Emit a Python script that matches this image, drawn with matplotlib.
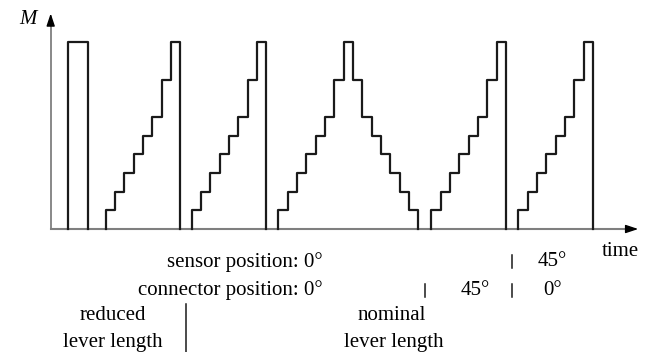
import matplotlib
matplotlib.use('Agg')
import matplotlib.pyplot as plt
import numpy as np

plt.rcParams['font.family'] = ['Liberation Serif', 'DejaVu Serif']

# pulse with reduced lever length
pulse_start, pulse_end, pulse_height = 1.9, 4.0, 10
# load steps (in step units) for each ramp
up_levels = [1, 2, 3, 4, 5, 6, 8, 10]
down_levels = [8, 6, 5, 4, 3, 2, 1]
ramp_starts = [5.9, 15.1, 24.4, 40.8, 50.1]
ramp_kind = ['up', 'up', 'updown', 'up', 'up']

# dividers between test phases
sensor_div = [49.45]
connector_div = [40.1, 49.45]
lever_div = 14.5

line_col = '#1a1a1a'
axis_col = '#7f7f7f'

fig = plt.figure(figsize=(6.51, 3.52), dpi=100)
ax = fig.add_axes([0, 0, 1, 1])
ax.set_xlim(-5.43, 64.32)
ax.set_ylim(-6.59, 12.27)
ax.axis('off')

# axes
ax.plot([0, 0], [0, 11.0], color=axis_col, lw=1.3, zorder=1)
ax.plot([0, 62.0], [0, 0], color=axis_col, lw=1.5, zorder=1)
ax.annotate('', xy=(0, 11.55), xytext=(0, 10.9),
            arrowprops=dict(arrowstyle='-|>,head_length=0.75,head_width=0.25',
                            color='black', lw=1, shrinkA=0, shrinkB=0))
ax.annotate('', xy=(62.95, 0), xytext=(61.6, 0),
            arrowprops=dict(arrowstyle='-|>,head_length=0.75,head_width=0.25',
                            color='black', lw=1, shrinkA=0, shrinkB=0))

# pulse
ax.plot([pulse_start, pulse_start, pulse_end, pulse_end],
        [0, pulse_height, pulse_height, 0], color=line_col, lw=1.6, zorder=2)

# ramps
for t0, kind in zip(ramp_starts, ramp_kind):
    levels = up_levels + (down_levels if kind == 'updown' else [])
    xs = [t0] + [t0 + i for i in range(len(levels) + 1)]
    ys = [0] + levels + [0]
    ax.plot(xs, ys, drawstyle='steps-post', color=line_col, lw=1.6, zorder=2)

fs = 15
ax.text(-1.5, 11.2, 'M', style='italic', fontsize=fs, ha='right', va='center')
ax.text(61.0, -1.2, 'time', fontsize=fs, ha='center', va='center')

# sensor row
ax.text(29.17, -1.75, 'sensor position: 0°', fontsize=fs, ha='right', va='center')
for d in sensor_div:
    ax.plot([d, d], [-1.4, -2.1], color=line_col, lw=1.1)
ax.text(53.75, -1.75, '45°', fontsize=fs, ha='center', va='center')

# connector row
ax.text(29.17, -3.27, 'connector position: 0°', fontsize=fs, ha='right', va='center')
for d in connector_div:
    ax.plot([d, d], [-2.92, -3.62], color=line_col, lw=1.1)
ax.text(45.5, -3.27, '45°', fontsize=fs, ha='center', va='center')
ax.text(53.8, -3.27, '0°', fontsize=fs, ha='center', va='center')

# lever length row
ax.plot([lever_div, lever_div], [-4.0, -6.6], color=line_col, lw=1.1)
ax.text(6.7, -4.64, 'reduced', fontsize=fs, ha='center', va='center')
ax.text(6.7, -6.1, 'lever length', fontsize=fs, ha='center', va='center')
ax.text(36.5, -4.64, 'nominal', fontsize=fs, ha='center', va='center')
ax.text(36.8, -6.1, 'lever length', fontsize=fs, ha='center', va='center')

fig.savefig('out.png', dpi=100, facecolor='white')
